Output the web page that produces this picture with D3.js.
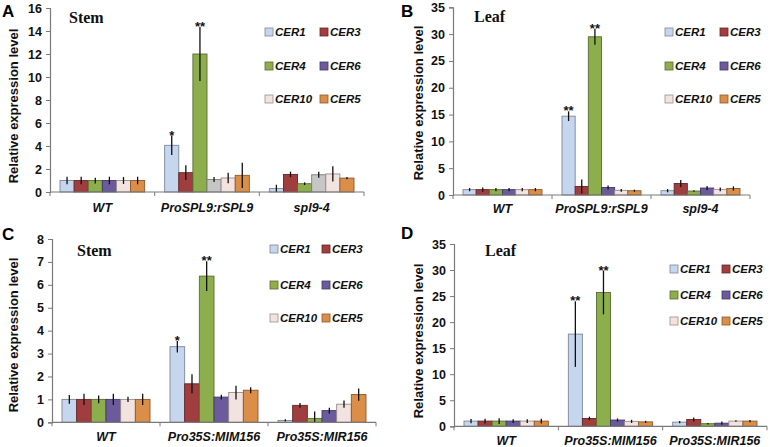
<!DOCTYPE html>
<html><head><meta charset="utf-8">
<script src="https://cdn.jsdelivr.net/npm/d3@7"></script>
<style>
body{margin:0;background:#fff;}
svg{display:block;}
</style>
</head><body>
<svg id="chart" width="770" height="447"></svg>
<script>
// ---------- DATA ----------
const genes = ["CER1", "CER3", "CER4", "CER6", "CER10", "CER5"];
const groupsSPL = ["WT", "ProSPL9:rSPL9", "spl9-4"];
const groupsMIR = ["WT", "Pro35S:MIM156", "Pro35S:MIR156"];

// Panel A: stem, SPL9 lines
const stemA_mean = [[1.0, 1.0, 1.0, 1.0, 1.0, 1.0], [4.06, 1.68, 12.0, 1.08, 1.22, 1.45], [0.3, 1.53, 0.72, 1.5, 1.57, 1.21]];
const stemA_err  = [[0.33, 0.33, 0.25, 0.33, 0.3, 0.33], [0.85, 0.64, 2.35, 0.22, 0.46, 1.1], [0.33, 0.24, 0.12, 0.27, 0.66, 0.1]];
const stemA_sig  = [["", "", "", "", "", ""], ["*", "", "**", "", "", ""], ["", "", "", "", "", ""]];
const ticksA = [0, 2, 4, 6, 8, 10, 12, 14, 16];

// Panel B: leaf, SPL9 lines
const leafB_mean = [[1.0, 1.0, 1.0, 1.0, 1.0, 1.0], [14.7, 1.6, 29.5, 1.4, 0.87, 0.8], [0.8, 2.15, 0.74, 1.3, 1.05, 1.22]];
const leafB_err  = [[0.3, 0.4, 0.3, 0.3, 0.3, 0.3], [0.9, 1.3, 1.5, 0.38, 0.25, 0.2], [0.3, 0.65, 0.15, 0.4, 0.35, 0.4]];
const leafB_sig  = [["", "", "", "", "", ""], ["**", "", "**", "", "", ""], ["", "", "", "", "", ""]];
const ticksB = [0, 5, 10, 15, 20, 25, 30, 35];

// Panel C: stem, miR156 lines
const stemC_mean = [[1.0, 1.0, 1.0, 1.0, 1.0, 1.0], [3.3, 1.68, 6.38, 1.1, 1.3, 1.4], [0.08, 0.74, 0.17, 0.51, 0.79, 1.21]];
const stemC_err  = [[0.19, 0.25, 0.17, 0.25, 0.11, 0.25], [0.25, 0.42, 0.65, 0.1, 0.3, 0.13], [0.05, 0.1, 0.3, 0.13, 0.16, 0.27]];
const stemC_sig  = [["", "", "", "", "", ""], ["*", "", "**", "", "", ""], ["", "", "", "", "", ""]];
const ticksC = [0, 1, 2, 3, 4, 5, 6, 7, 8];

// Panel D: leaf, miR156 lines
const leafD_mean = [[1.0, 1.0, 1.0, 1.0, 1.0, 1.0], [17.7, 1.5, 25.7, 1.2, 0.95, 0.85], [0.8, 1.3, 0.5, 0.6, 1.0, 1.0]];
const leafD_err  = [[0.4, 0.45, 0.55, 0.35, 0.35, 0.45], [6.3, 0.35, 4.2, 0.3, 0.3, 0.2], [0.2, 0.4, 0.15, 0.3, 0.15, 0.2]];
const leafD_sig  = [["", "", "", "", "", ""], ["**", "", "**", "", "", ""], ["", "", "", "", "", ""]];
const ticksD = [0, 5, 10, 15, 20, 25, 30, 35];

// ---------- STYLE ----------
const geneColors = ["#c6d6ef", "#a03d3e", "#8dae4d", "#6b5b9d", "#f2e2e0", "#db8e48"];
const greyFill = "#c6c6c6";

const panels = [
  {letter:"A", lx:2, ly:17, title:"Stem", tx:69, ty:23, groups:groupsSPL, mean:stemA_mean, err:stemA_err, sig:stemA_sig, ticks:ticksA,
   x0:50, x1:364, yB:192, yT:8, ymax:16, catY:211.5, ylabX:13, ylabY:106,
   legC1:265, legC2:320, legRows:[32,66,99], override:{"1-3":greyFill, "2-3":greyFill}},
  {letter:"B", lx:401, ly:17, title:"Leaf", tx:474, ty:22, groups:groupsSPL, mean:leafB_mean, err:leafB_err, sig:leafB_sig, ticks:ticksB,
   x0:453, x1:750, yB:195, yT:7.3, ymax:35, catY:213, ylabX:418, ylabY:103,
   legC1:665, legC2:720, legRows:[32,66,99], override:{}},
  {letter:"C", lx:2, ly:240, title:"Stem", tx:77, ty:256, groups:groupsMIR, mean:stemC_mean, err:stemC_err, sig:stemC_sig, ticks:ticksC,
   x0:52, x1:376, yB:422.3, yT:239, ymax:8, catY:440.5, ylabX:13, ylabY:335,
   legC1:270, legC2:322, legRows:[249,285,318], override:{}},
  {letter:"D", lx:401, ly:239, title:"Leaf", tx:485, ty:256, groups:groupsMIR, mean:leafD_mean, err:leafD_err, sig:leafD_sig, ticks:ticksD,
   x0:454, x1:767, yB:426.3, yT:244, ymax:35, catY:445, ylabX:418, ylabY:341,
   legC1:670, legC2:722, legRows:[269,295,321], override:{}}
];

const svg = d3.select("#chart");
const SANS = "'Liberation Sans', Arial, sans-serif";
const SERIF = "'Liberation Serif', 'Times New Roman', serif";

panels.forEach((p, pi) => {
  const g = svg.append("g");
  const y = d3.scaleLinear().domain([0, p.ymax]).range([p.yB, p.yT]);
  const x = d3.scaleBand().domain(p.groups).range([p.x0, p.x1]).paddingInner(0).paddingOuter(0);
  const bw = x.bandwidth();
  const xi = d3.scaleBand().domain(genes).range([10, bw - 10]).padding(0);

  // y axis
  const yAxis = d3.axisLeft(y).tickValues(p.ticks).tickSize(4).tickPadding(4).tickFormat(d3.format("d"));
  const ya = g.append("g").attr("transform", `translate(${p.x0},0)`).call(yAxis);
  ya.select(".domain").attr("stroke", "#7a7a7a").attr("stroke-width", 1.2);
  ya.selectAll(".tick line").attr("stroke", "#7a7a7a");
  ya.selectAll(".tick text").attr("fill", "#111").style("font-family", SANS).style("font-weight", "bold").style("font-size", "12.5px");

  // bars
  p.groups.forEach((grp, gi) => {
    genes.forEach((gene, k) => {
      const v = p.mean[gi][k], e = p.err[gi][k];
      const fill = p.override[gi + "-" + k] || geneColors[k];
      const bx = x(grp) + xi(gene);
      g.append("rect")
        .attr("x", bx).attr("y", y(v))
        .attr("width", xi.bandwidth()).attr("height", y(0) - y(v))
        .attr("fill", fill)
        .attr("stroke", d3.color(fill).darker(1.3))
        .attr("stroke-width", 0.9);
      const cx = bx + xi.bandwidth() / 2;
      g.append("line")
        .attr("x1", cx).attr("x2", cx)
        .attr("y1", y(Math.max(0, v - e))).attr("y2", y(v + e))
        .attr("stroke", "#111").attr("stroke-width", 1.3);
      const s = p.sig[gi][k];
      if (s) {
        g.append("text").attr("x", cx).attr("y", y(v + e) + 4)
          .attr("text-anchor", "middle")
          .style("font-family", SANS).style("font-weight", "bold").style("font-size", "13px")
          .attr("fill", "#111").text(s);
      }
    });
  });

  // x axis
  g.append("line").attr("x1", p.x0).attr("x2", p.x1).attr("y1", p.yB).attr("y2", p.yB)
    .attr("stroke", "#7a7a7a").attr("stroke-width", 1.2);
  const bounds = p.groups.map(d => x(d)).concat([p.x1]);
  bounds.forEach(b => {
    g.append("line").attr("x1", b).attr("x2", b).attr("y1", p.yB).attr("y2", p.yB + 4)
      .attr("stroke", "#7a7a7a").attr("stroke-width", 1);
  });
  p.groups.forEach(grp => {
    g.append("text").attr("x", x(grp) + bw / 2).attr("y", p.catY)
      .attr("text-anchor", "middle")
      .style("font-family", SANS).style("font-weight", "bold").style("font-style", "italic").style("font-size", "12.5px")
      .attr("fill", "#111").text(grp);
  });

  // y label
  g.append("text").attr("transform", `translate(${p.ylabX},${p.ylabY}) rotate(-90)`)
    .attr("text-anchor", "middle").attr("dominant-baseline", "central")
    .style("font-family", SANS).style("font-weight", "bold").style("font-size", "13px")
    .attr("fill", "#111").text("Relative expression level");

  // panel letter & title
  g.append("text").attr("x", p.lx).attr("y", p.ly)
    .style("font-family", SANS).style("font-weight", "bold").style("font-size", "17px")
    .attr("fill", "#000").text(p.letter);
  g.append("text").attr("x", p.tx).attr("y", p.ty)
    .style("font-family", SERIF).style("font-weight", "bold").style("font-size", "16px")
    .attr("fill", "#111").text(p.title);

  // legend
  genes.forEach((gene, k) => {
    const row = Math.floor(k / 2), col = k % 2;
    const lx = col === 0 ? p.legC1 : p.legC2;
    const ly = p.legRows[row];
    const c = geneColors[k];
    g.append("rect").attr("x", lx).attr("y", ly - 4).attr("width", 8).attr("height", 8)
      .attr("fill", c).attr("stroke", d3.color(c).darker(1.3)).attr("stroke-width", 0.8);
    g.append("text").attr("x", lx + 10).attr("y", ly).attr("dominant-baseline", "central")
      .style("font-family", SANS).style("font-weight", "bold").style("font-style", "italic").style("font-size", "11.5px")
      .attr("fill", "#111").text(gene);
  });
});
</script>
</body></html>
